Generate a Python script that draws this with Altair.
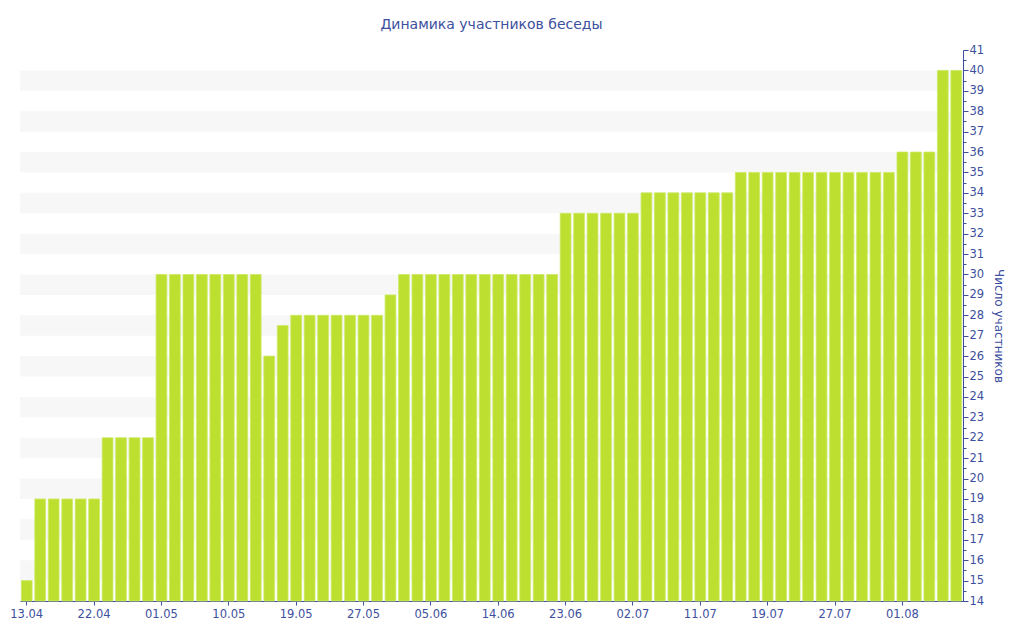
import altair as alt
import pandas as pd

# ---- data ----
values = ([15] + [19] * 5 + [22] * 4 + [30] * 8 + [26, 27.5] + [28] * 7 + [29]
          + [30] * 12 + [33] * 6 + [34] * 7 + [35] * 12 + [36] * 3 + [40] * 2)
tick_labels = ["13.04", "22.04", "01.05", "10.05", "19.05", "27.05", "05.06",
               "14.06", "23.06", "02.07", "11.07", "19.07", "27.07", "01.08"]
title_text = "Динамика участников беседы"
y_title = "Число участников"

W, H = 943, 551
BLUE = "#3d509e"
FONT = "DejaVu Sans"

df = pd.DataFrame({"i": list(range(len(values))), "v": values})
stripes = pd.DataFrame({"y0": [s for s in range(15, 41, 2)]})
stripes["y1"] = stripes["y0"] + 1

label_arr = "[" + ",".join("'%s'" % t for t in tick_labels) + "]"

y_scale = alt.Scale(domain=[14, 41], nice=False, zero=False)
y_axis = alt.Axis(
    orient="right",
    values=[14 + k * 0.5 for k in range(55)],
    labelExpr="datum.value % 1 == 0 ? datum.value : ''",
    labelOverlap=False,
    tickSize={"condition": {"test": "datum.value % 1 != 0", "value": 3},
              "value": 5},
    domainColor=BLUE, tickColor=BLUE, labelColor=BLUE,
    labelFont=FONT, labelFontSize=11.5, labelPadding=1,
    grid=False, title=y_title, titleColor=BLUE, titleFont=FONT,
    titleFontSize=12, titleFontWeight="normal", titlePadding=8)

band = alt.Chart(stripes).mark_rect(color="#f7f7f7").encode(
    x=alt.value(0), x2=alt.value(W),
    y=alt.Y("y0:Q", scale=y_scale, axis=y_axis),
    y2="y1:Q",
)

bars = alt.Chart(df).mark_bar(
    color="#bde030", stroke="#cdea66", strokeWidth=0.8
).encode(
    x=alt.X("i:O",
            scale=alt.Scale(paddingInner=0.2, paddingOuter=0.1),
            axis=alt.Axis(
                values=list(range(0, len(values), 5)),
                labelExpr=label_arr + "[floor(datum.value / 5)]",
                labelAngle=0, title=None, domainColor=BLUE, tickColor=BLUE,
                tickSize=4, labelColor=BLUE, labelFont=FONT, labelFontSize=11.5,
                labelPadding=3, grid=False, labelOverlap=False)),
    y=alt.Y("v:Q", scale=y_scale, axis=y_axis),
    y2=alt.datum(14),
)

chart = alt.layer(band, bars).properties(
    width=W, height=H,
    background="white",
    title=alt.TitleParams(title_text, font=FONT, fontSize=14, fontWeight="normal",
                          color=BLUE, offset=12, anchor="middle"),
    padding={"left": 1, "top": 10, "right": 5, "bottom": 5},
).configure_view(strokeWidth=0, stroke="transparent").configure_axis(labelOverlap=False)

chart.save("out.html", embed_options={"renderer": "svg", "actions": False})
